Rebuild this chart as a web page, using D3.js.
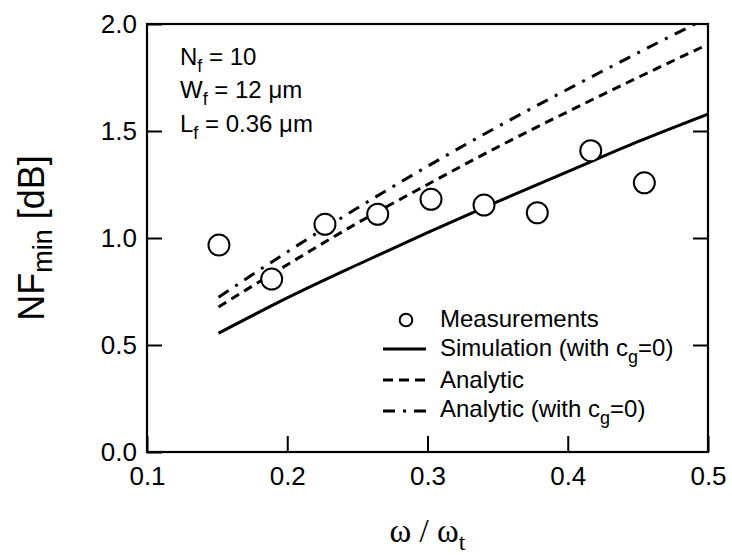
<!DOCTYPE html>
<html>
<head>
<meta charset="utf-8">
<script src="https://cdn.jsdelivr.net/npm/d3@7"></script>
<style>
  body { margin: 0; background: #fff; overflow: hidden; }
  svg { display: block; }
  text { font-family: "Liberation Sans", Arial, sans-serif; fill: #000; }
</style>
</head>
<body>
<svg width="732" height="555"></svg>
<script>
  // measured points
  var measX = [0.1513, 0.1889, 0.2269, 0.2645, 0.3025, 0.3403, 0.3783, 0.4164, 0.4546];
  var measY = [0.967, 0.808, 1.064, 1.111, 1.181, 1.154, 1.118, 1.408, 1.258];

  // model curves
  var curveX = [0.151, 0.2, 0.25, 0.3, 0.35, 0.4, 0.45, 0.5];
  var simY = [0.555, 0.72, 0.875, 1.025, 1.17, 1.31, 1.45, 1.579];
  var analyticY = [0.678, 0.875, 1.07, 1.25, 1.425, 1.59, 1.75, 1.905];
  var analyticCg0Y = [0.723, 0.935, 1.14, 1.335, 1.52, 1.695, 1.865, 2.03];

  var xTicks = [0.1, 0.2, 0.3, 0.4, 0.5];
  var yTicks = [0.0, 0.5, 1.0, 1.5, 2.0];

  var svg = d3.select("svg");
  var margin = { top: 24, left: 147, right: 24, bottom: 103 };
  var innerWidth = 732 - margin.left - margin.right;
  var innerHeight = 555 - margin.top - margin.bottom;

  var xScale = d3.scaleLinear().domain([0.1, 0.5]).range([0, innerWidth]);
  var yScale = d3.scaleLinear().domain([0, 2]).range([innerHeight, 0]);

  var g = svg.append("g")
    .attr("transform", "translate(" + margin.left + "," + margin.top + ")");

  g.append("clipPath").attr("id", "plotclip")
    .append("rect").attr("width", innerWidth).attr("height", innerHeight);

  // axes with inward ticks
  var fmt = d3.format(".1f");
  var styleAxis = function (sel) {
    sel.select(".domain").remove();
    sel.selectAll(".tick line").attr("stroke", "#000").attr("stroke-width", 2);
    sel.selectAll(".tick text").style("font-size", "26px")
      .style("font-family", "'Liberation Sans', Arial, sans-serif");
  };

  var xAxis = g.append("g")
    .attr("transform", "translate(0," + innerHeight + ")")
    .call(d3.axisBottom(xScale).tickValues(xTicks).tickFormat(fmt)
      .tickSizeInner(-16).tickSizeOuter(0).tickPadding(26));
  styleAxis(xAxis);
  xAxis.selectAll(".tick text").attr("dy", "0.71em").attr("y", 15);

  var yAxis = g.append("g")
    .call(d3.axisLeft(yScale).tickValues(yTicks).tickFormat(fmt)
      .tickSizeInner(-15).tickSizeOuter(0).tickPadding(10));
  styleAxis(yAxis);
  yAxis.selectAll(".tick text").attr("x", -10);

  var yAxisR = g.append("g")
    .attr("transform", "translate(" + innerWidth + ",0)")
    .call(d3.axisRight(yScale).tickValues([0.5, 1.0, 1.5]).tickFormat("")
      .tickSizeInner(-15).tickSizeOuter(0));
  styleAxis(yAxisR);
  yAxisR.selectAll(".tick text").remove();

  // frame
  g.append("rect")
    .attr("width", innerWidth).attr("height", innerHeight)
    .attr("fill", "none").attr("stroke", "#000").attr("stroke-width", 2.2);

  var line = d3.line()
    .x(function (d) { return xScale(d[0]); })
    .y(function (d) { return yScale(d[1]); })
    .curve(d3.curveMonotoneX);

  var series = [
    { ys: simY, dash: null },
    { ys: analyticY, dash: "9,6" },
    { ys: analyticCg0Y, dash: "12,8,3,8" }
  ];

  g.append("g").attr("clip-path", "url(#plotclip)")
    .selectAll("path")
    .data(series)
    .enter()
    .append("path")
    .attr("d", function (s) { return line(curveX.map(function (x, i) { return [x, s.ys[i]]; })); })
    .attr("fill", "none")
    .attr("stroke", "#000")
    .attr("stroke-width", 3)
    .attr("stroke-dasharray", function (s) { return s.dash; });

  g.selectAll("circle.meas")
    .data(measX)
    .enter()
    .append("circle")
    .attr("class", "meas")
    .attr("cx", function (d) { return xScale(d); })
    .attr("cy", function (d, i) { return yScale(measY[i]); })
    .attr("r", 10.5)
    .attr("fill", "#fff")
    .attr("stroke", "#000")
    .attr("stroke-width", 2);

  // annotation
  var ann = [
    ["N", "f", " = 10"],
    ["W", "f", " = 12 \u03bcm"],
    ["L", "f", " = 0.36 \u03bcm"]
  ];
  ann.forEach(function (a, i) {
    var t = g.append("text")
      .attr("x", 33).attr("y", 41 + i * 33.3)
      .style("font-size", "24px");
    t.append("tspan").text(a[0]);
    t.append("tspan").attr("dy", 7).style("font-size", "18px").text(a[1]);
    t.append("tspan").attr("dy", -7).text(a[2]);
  });

  // legend
  var leg = svg.append("g");
  leg.append("circle").attr("cx", 406).attr("cy", 320).attr("r", 6.3)
    .attr("fill", "none").attr("stroke", "#000").attr("stroke-width", 2);
  [[349, null], [380, "10,6"], [411, "12,8,3,8"]].forEach(function (s) {
    leg.append("line")
      .attr("x1", 383).attr("x2", 426).attr("y1", s[0]).attr("y2", s[0])
      .attr("stroke", "#000").attr("stroke-width", 3)
      .attr("stroke-dasharray", s[1]);
  });
  var legText = [
    ["Measurements", null, null, 327],
    ["Simulation (with c", "g", "=0)", 356],
    ["Analytic", null, null, 388],
    ["Analytic (with c", "g", "=0)", 417]
  ];
  legText.forEach(function (l) {
    var t = leg.append("text").attr("x", 440).attr("y", l[3]).style("font-size", "24px");
    t.append("tspan").text(l[0]);
    if (l[1]) {
      t.append("tspan").attr("dy", 7).style("font-size", "18px").text(l[1]);
      t.append("tspan").attr("dy", -7).text(l[2]);
    }
  });

  // axis titles
  var xt = svg.append("text")
    .attr("x", margin.left + innerWidth / 2).attr("y", 542)
    .attr("text-anchor", "middle")
    .style("font-family", "'Liberation Serif', 'Times New Roman', serif")
    .style("font-size", "33px");
  xt.append("tspan").text("\u03c9 / \u03c9");
  xt.append("tspan").attr("dy", 8).style("font-size", "24px").text("t");

  var yt = svg.append("text")
    .attr("transform", "translate(44," + (margin.top + innerHeight / 2) + ") rotate(-90)")
    .attr("text-anchor", "middle")
    .style("font-size", "36px");
  yt.append("tspan").text("NF");
  yt.append("tspan").attr("dy", 8).style("font-size", "27px").text("min");
  yt.append("tspan").attr("dy", -8).text(" [dB]");
</script>
</body>
</html>
